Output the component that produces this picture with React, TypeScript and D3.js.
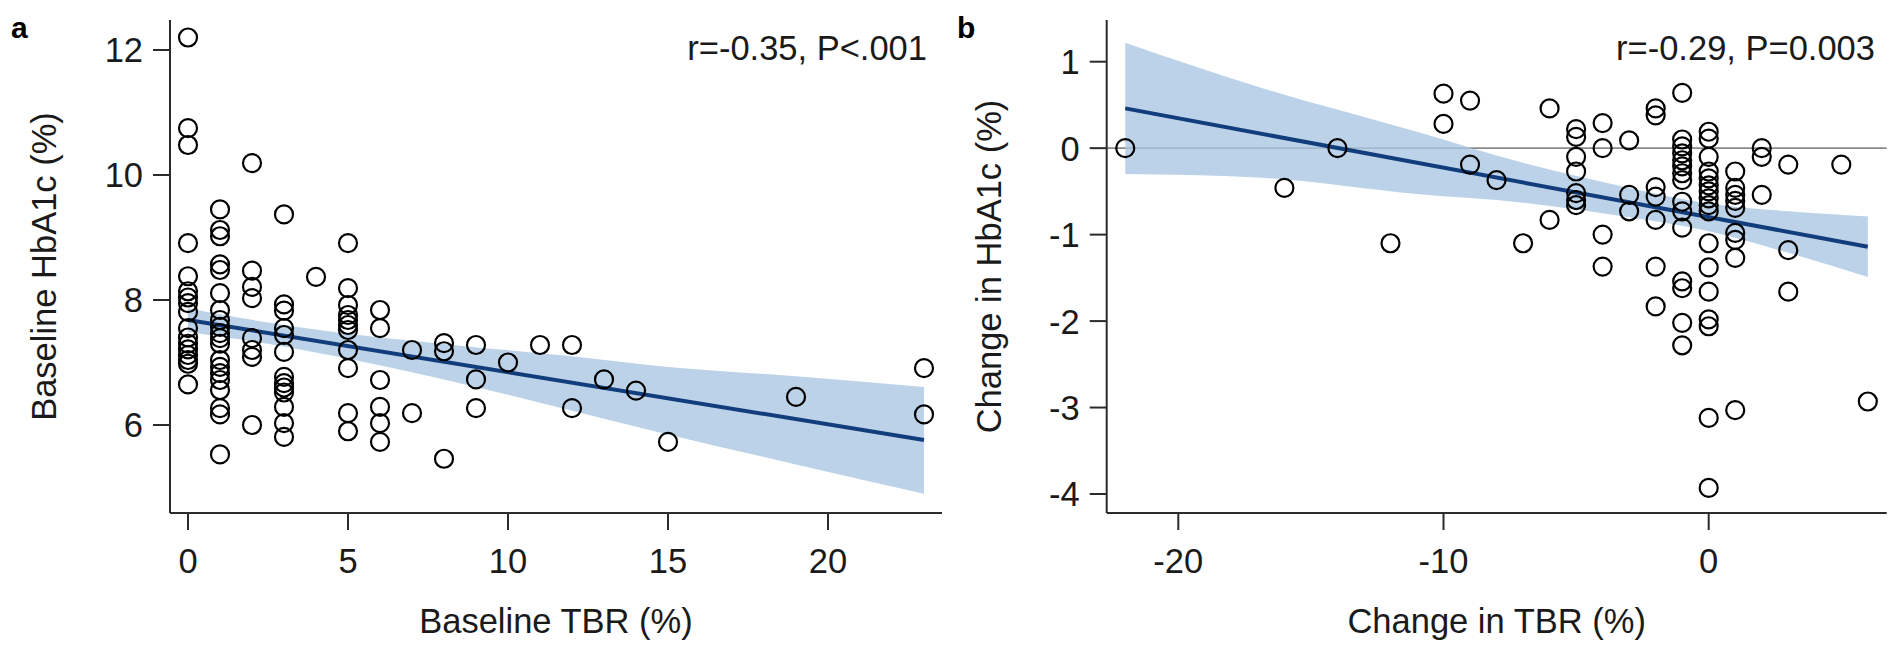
import React from "react";
import * as d3 from "d3";

// ---------- Panel a data: Baseline TBR (%) vs Baseline HbA1c (%) ----------
const aTBR = [0, 1, 2, 3, 4, 5, 6, 7, 8, 9, 10, 11, 12, 13, 14, 15, 19, 23];
const aHbA1c: number[][] = [
  [12.2, 10.75, 10.48, 8.91, 8.38, 8.14, 8.04, 7.95, 7.81, 7.55, 7.4, 7.3, 7.21, 7.12, 7.04, 6.98, 6.65],
  [9.45, 9.12, 9.02, 8.57, 8.48, 8.11, 7.84, 7.68, 7.57, 7.47, 7.39, 7.3, 7.04, 6.93, 6.83, 6.72, 6.56, 6.27, 6.17, 5.53],
  [10.19, 8.47, 8.21, 8.03, 7.39, 7.2, 7.09, 6.0],
  [9.37, 7.93, 7.83, 7.55, 7.44, 7.17, 6.77, 6.67, 6.6, 6.52, 6.29, 6.03, 5.81],
  [8.37],
  [8.91, 8.19, 7.92, 7.76, 7.68, 7.6, 7.52, 7.2, 6.91, 6.19, 5.9],
  [7.84, 7.55, 6.72, 6.29, 6.03, 5.73],
  [7.2, 6.19],
  [7.31, 7.18, 5.46],
  [7.28, 6.73, 6.27],
  [7.0],
  [7.28],
  [7.28, 6.27],
  [6.73],
  [6.55],
  [5.73],
  [6.45],
  [6.91, 6.17],
];
const aFitX = [0, 23];
const aFitY = [7.68, 5.76];
const aBandX = [0, 2.5, 5, 8.5, 12, 15, 19, 23];
const aBandLo = [7.49, 7.3, 7.06, 6.67, 6.23, 5.85, 5.37, 4.9];
const aBandHi = [7.87, 7.64, 7.46, 7.27, 7.1, 6.93, 6.78, 6.61];
const aXTicks = [0, 5, 10, 15, 20];
const aYTicks = [6, 8, 10, 12];

// ---------- Panel b data: Change in TBR (%) vs Change in HbA1c (%) ----------
const bTBR = [-22, -16, -14, -12, -10, -9, -8, -7, -6, -5, -4, -3, -2, -1, 0, 1, 2, 3, 5, 6];
const bHbA1c: number[][] = [
  [0],
  [-0.46],
  [0],
  [-1.1],
  [0.63, 0.28],
  [0.55, -0.19],
  [-0.37],
  [-1.1],
  [0.46, -0.83],
  [0.22, 0.13, -0.1, -0.27, -0.52, -0.6, -0.66],
  [0.29, 0.0, -1.0, -1.37],
  [0.09, -0.54, -0.73],
  [0.46, 0.38, -0.45, -0.56, -0.83, -1.37, -1.83],
  [0.64, 0.1, 0.02, -0.06, -0.14, -0.21, -0.29, -0.37, -0.62, -0.73, -0.92, -1.54, -1.62, -2.02, -2.28],
  [0.19, 0.11, -0.1, -0.27, -0.35, -0.43, -0.5, -0.58, -0.66, -0.73, -1.1, -1.38, -1.66, -1.98, -2.06, -3.12, -3.93],
  [-0.27, -0.46, -0.54, -0.61, -0.69, -0.98, -1.06, -1.27, -3.03],
  [0.0, -0.1, -0.54],
  [-0.19, -1.18, -1.66],
  [-0.19],
  [-2.93],
];
const bFitX = [-22, 6];
const bFitY = [0.46, -1.14];
const bBandX = [-22, -17, -11, -7, -3, 0, 3, 6];
const bBandLo = [-0.3, -0.34, -0.53, -0.63, -0.8, -0.96, -1.21, -1.49];
const bBandHi = [1.22, 0.71, 0.19, -0.17, -0.46, -0.64, -0.73, -0.79];
const bXTicks = [-20, -10, 0];
const bYTicks = [-4, -3, -2, -1, 0, 1];

const FONT = "'Liberation Sans', Arial, Helvetica, sans-serif";
const AXIS = "#2b2b2b";
const TXT = "#1a1a1a";
const LINE = "#123d7c";
const BAND = "#a8c5e2";

type PanelProps = {
  xs: number[];
  ys: number[][];
  fitX: number[];
  fitY: number[];
  bandX: number[];
  bandLo: number[];
  bandHi: number[];
  xTicks: number[];
  yTicks: number[];
  x: d3.ScaleLinear<number, number>;
  y: d3.ScaleLinear<number, number>;
  left: number;
  right: number;
  top: number;
  bottom: number;
  xLabel: string;
  yLabel: string;
  yLabelX: number;
  letter: string;
  letterX: number;
  stat: string;
  statX: number;
  zeroLine?: boolean;
};

function Panel(p: PanelProps) {
  const { x, y } = p;
  const band = p.bandX.map((v, i) => ({ x: v, lo: p.bandLo[i], hi: p.bandHi[i] }));
  const area = d3
    .area<{ x: number; lo: number; hi: number }>()
    .x((d) => x(d.x))
    .y0((d) => y(d.lo))
    .y1((d) => y(d.hi))
    .curve(d3.curveMonotoneX);
  const fit = d3
    .line<number>()
    .x((d) => x(d))
    .y((_, i) => y(p.fitY[i]));
  const pts: { cx: number; cy: number }[] = [];
  p.xs.forEach((xv, i) => p.ys[i].forEach((yv) => pts.push({ cx: x(xv), cy: y(yv) })));
  const fs = 34.5;
  return (
    <g>
      {p.zeroLine && (
        <line x1={p.left} x2={p.right} y1={y(0)} y2={y(0)} stroke="#8a8a8a" strokeWidth={1.6} />
      )}
      <path d={area(band) || ""} fill={BAND} fillOpacity={0.78} />
      <path d={fit(p.fitX) || ""} fill="none" stroke={LINE} strokeWidth={4} />
      {pts.map((d, i) => (
        <circle key={i} cx={d.cx} cy={d.cy} r={9} fill="none" stroke="#000" strokeWidth={2.2} />
      ))}
      {/* axes */}
      <line x1={p.left} x2={p.left} y1={p.top} y2={p.bottom} stroke={AXIS} strokeWidth={2} />
      <line x1={p.left} x2={p.right} y1={p.bottom} y2={p.bottom} stroke={AXIS} strokeWidth={2} />
      {p.yTicks.map((t) => (
        <g key={"y" + t}>
          <line x1={p.left - 17} x2={p.left} y1={y(t)} y2={y(t)} stroke={AXIS} strokeWidth={2} />
          <text x={p.left - 27} y={y(t)} dy="0.36em" textAnchor="end" fontSize={fs} fill={TXT} fontFamily={FONT}>
            {t}
          </text>
        </g>
      ))}
      {p.xTicks.map((t) => (
        <g key={"x" + t}>
          <line x1={x(t)} x2={x(t)} y1={p.bottom} y2={p.bottom + 17} stroke={AXIS} strokeWidth={2} />
          <text x={x(t)} y={573} textAnchor="middle" fontSize={fs} fill={TXT} fontFamily={FONT}>
            {t}
          </text>
        </g>
      ))}
      <text x={(p.left + p.right) / 2} y={633} textAnchor="middle" fontSize={fs} fill={TXT} fontFamily={FONT}>
        {p.xLabel}
      </text>
      <text
        transform={`translate(${p.yLabelX},${(p.top + p.bottom) / 2}) rotate(-90)`}
        textAnchor="middle"
        fontSize={fs}
        fill={TXT}
        fontFamily={FONT}
      >
        {p.yLabel}
      </text>
      <text x={p.statX} y={60} textAnchor="end" fontSize={fs} fill={TXT} fontFamily={FONT}>
        {p.stat}
      </text>
      <text x={p.letterX} y={38} fontSize={30} fontWeight="bold" fill="#000" fontFamily={FONT}>
        {p.letter}
      </text>
    </g>
  );
}

export default function App() {
  const xA = d3.scaleLinear().domain([0, 20]).range([188, 828]);
  const yA = d3.scaleLinear().domain([6, 12]).range([425, 50]);
  const xB = d3.scaleLinear().domain([-20, 0]).range([1178.3, 1708.7]);
  const yB = d3.scaleLinear().domain([-4, 1]).range([494, 61.7]);
  return (
    <div style={{ position: "absolute", left: 0, top: 0 }}>
      <svg width={1893} height={650} style={{ display: "block", background: "#fff" }}>
        <rect width={1893} height={650} fill="#fff" />
        <Panel
          xs={aTBR}
          ys={aHbA1c}
          fitX={aFitX}
          fitY={aFitY}
          bandX={aBandX}
          bandLo={aBandLo}
          bandHi={aBandHi}
          xTicks={aXTicks}
          yTicks={aYTicks}
          x={xA}
          y={yA}
          left={170}
          right={942}
          top={20}
          bottom={513}
          xLabel="Baseline TBR (%)"
          yLabel="Baseline HbA1c (%)"
          yLabelX={56}
          letter="a"
          letterX={11}
          stat="r=-0.35, P<.001"
          statX={927}
        />
        <Panel
          xs={bTBR}
          ys={bHbA1c}
          fitX={bFitX}
          fitY={bFitY}
          bandX={bBandX}
          bandLo={bBandLo}
          bandHi={bBandHi}
          xTicks={bXTicks}
          yTicks={bYTicks}
          x={xB}
          y={yB}
          left={1106.7}
          right={1886.7}
          top={20}
          bottom={513}
          xLabel="Change in TBR (%)"
          yLabel="Change in HbA1c (%)"
          yLabelX={1001}
          letter="b"
          letterX={957}
          stat="r=-0.29, P=0.003"
          statX={1875}
          zeroLine
        />
      </svg>
    </div>
  );
}
